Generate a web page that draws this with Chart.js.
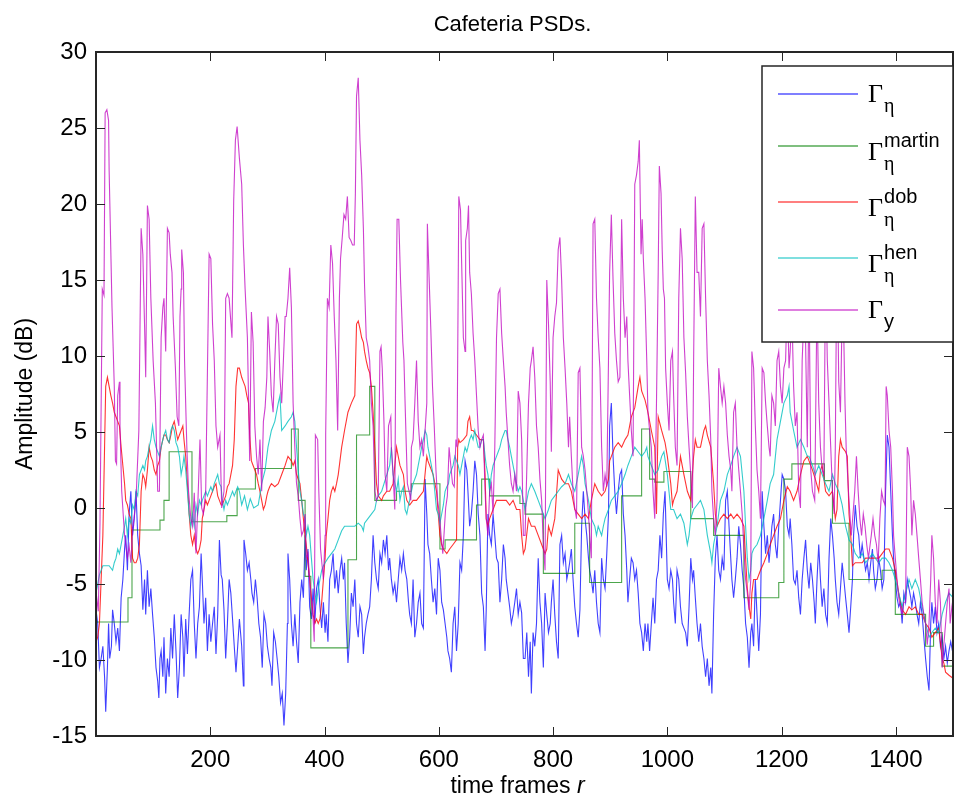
<!DOCTYPE html>
<html>
<head>
<meta charset="utf-8">
<title>Cafeteria PSDs.</title>
<script src="https://cdn.jsdelivr.net/npm/chart.js@4.4.1/dist/chart.umd.min.js"></script>
<style>
  html, body { margin: 0; padding: 0; background: #fff; }
  canvas { display: block; }
</style>
</head>
<body>
<canvas id="psd_chart" width="954" height="803"></canvas>
<script>
const chartTitle = 'Cafeteria PSDs.';
const xTicks = [200, 400, 600, 800, 1000, 1200, 1400];
const yTicks = [-15, -10, -5, 0, 5, 10, 15, 20, 25, 30];

// Gamma_y (noisy speech PSD)
const yFrames = [
  0,4,7,11,14,16,19,22,23,28,
  32,34,36,38,41,42,45,50,55,58,
  61,64,70,75,79,82,85,87,90,93,
  96,100,104,108,111,114,117,119,122,125,
  128,130,133,135,139,142,145,147,149,150,
  153,155,159,162,166,169,172,175,178,182,
  185,188,192,198,201,204,207,210,213,217,
  220,224,227,230,233,238,241,244,247,251,
  255,258,261,265,269,272,275,278,281,284,
  287,290,293,296,299,301,304,307,310,313,
  316,319,322,325,328,331,333,336,339,342,
  345,348,351,354,357,360,363,366,368,371,
  374,377,380,382,384,388,390,393,398,401,
  402,405,408,411,414,417,420,423,426,428,
  431,434,437,440,443,446,449,452,454,456,
  459,462,465,468,470,473,476,479,482,485,
  488,491,494,497,499,501,504,506,509,512,
  516,517,520,523,525,527,530,533,537,539,
  541,545,548,551,552,555,558,561,564,567,
  570,573,576,579,580,583,586,589,592,595,
  598,601,604,607,609,612,615,618,621,624,
  627,630,632,635,638,640,643,646,647,650,
  652,654,657,660,663,666,669,672,675,678,
  681,683,686,689,692,695,698,701,704,707,
  710,713,716,718,721,724,727,730,733,736,
  739,742,745,748,751,754,757,760,762,765,
  768,771,774,777,780,783,786,789,792,795,
  797,800,803,806,809,812,815,818,821,824,
  827,829,832,835,838,841,844,847,850,853,
  856,859,862,864,867,870,873,876,879,882,
  885,888,891,894,897,899,902,905,908,911,
  914,917,920,923,926,929,931,934,937,940,
  943,946,949,951,954,956,958,961,964,966,
  969,972,975,978,981,984,986,989,991,993,
  995,997,1000,1003,1006,1009,1011,1014,1017,1020,
  1023,1026,1029,1032,1035,1038,1041,1044,1046,1049,
  1052,1055,1058,1061,1064,1067,1070,1073,1076,1078,
  1081,1084,1087,1090,1093,1096,1099,1102,1105,1108,
  1111,1113,1116,1119,1122,1125,1128,1131,1134,1137,
  1140,1143,1146,1148,1151,1154,1157,1160,1163,1166,
  1169,1172,1175,1178,1180,1183,1186,1189,1192,1195,
  1198,1201,1204,1207,1210,1213,1215,1218,1221,1224,
  1227,1230,1233,1236,1239,1242,1245,1248,1251,1254,
  1258,1262,1265,1268,1271,1274,1277,1280,1283,1286,
  1289,1292,1294,1297,1300,1303,1307,1311,1313,1317,
  1320,1322,1325,1328,1331,1334,1337,1340,1343,1346,
  1349,1352,1354,1357,1360,1363,1366,1369,1372,1375,
  1378,1381,1383,1385,1388,1391,1394,1396,1399,1402,
  1405,1408,1411,1414,1417,1420,1423,1426,1428,1431,
  1434,1437,1440,1443,1446,1449,1452,1455,1458,1461,
  1463,1466,1469,1472,1475,1478,1481,1484,1487,1490,
  1493,1495,1498,1500
];
const yValues = [
  -5.5,-6.8,-1.0,14.4,14.0,26.0,26.2,25.5,22.2,13.2,
  8.0,3.1,2.9,7.4,8.3,5.4,1.1,-1.8,-3.3,-2.5,
  -3.6,-1.5,0.5,5.1,18.4,16.7,12.0,8.6,19.9,19.0,
  13.8,9.7,6.9,1.1,1.1,11.2,13.2,13.8,10.3,18.4,
  18.1,16.7,15.5,12.6,9.2,6.0,5.4,12.6,14.4,17.0,
  15.5,9.7,4.0,1.1,-0.7,-1.2,1.0,-3.0,0.0,4.5,
  0.0,-0.4,1.1,16.7,16.4,12.1,9.7,5.4,4.0,4.8,
  0.0,1.1,13.8,14.1,13.8,11.2,20.2,24.2,25.1,23.0,
  21.3,17.3,14.4,11.2,3.1,12.9,10.9,5.4,3.4,2.2,
  4.5,1.1,5.7,6.6,8.6,12.6,10.3,7.4,6.3,9.7,
  12.6,12.1,8.6,6.9,9.7,12.6,12.6,13.8,15.8,13.2,
  6.9,4.0,1.6,0.8,-0.7,-1.8,-1.5,-0.4,-3.3,-3.0,
  -4.7,-6.2,-7.3,-8.8,4.8,4.5,1.1,-2.7,-4.7,-1.8,
  4.8,13.8,13.2,17.3,16.1,12.6,9.7,5.1,13.8,16.4,
  17.8,19.3,19.0,20.5,17.8,17.6,17.3,17.3,20.7,27.1,
  28.3,24.2,21.9,18.4,14.7,11.2,10.6,9.7,6.9,5.4,
  1.1,0.5,0.8,10.3,10.6,9.2,5.7,2.2,1.1,5.4,
  6.0,4.0,2.2,-0.1,12.6,19.0,19.0,15.0,10.9,9.7,
  6.9,1.6,1.1,0.5,4.0,4.5,6.9,9.7,5.7,4.0,
  4.5,3.4,5.1,6.9,18.7,15.2,11.8,8.0,5.4,2.5,
  0.5,-0.4,-1.8,-3.0,-1.8,0.0,0.8,4.0,2.8,1.6,
  1.4,4.5,4.0,20.5,19.6,16.1,11.2,10.3,17.6,18.4,
  19.9,15.5,14.1,11.5,9.7,7.4,5.1,4.0,4.5,4.8,
  1.1,-0.7,-1.8,1.1,1.6,-0.4,4.0,11.2,14.1,14.4,
  11.5,9.7,8.0,6.3,4.5,2.8,1.6,1.1,2.2,1.1,
  7.7,6.9,4.5,-1.8,-1.8,2.5,6.9,9.2,9.7,10.6,
  8.6,5.4,4.0,1.9,0.5,-2.4,-4.1,15.0,12.1,8.3,
  3.7,11.2,12.6,13.5,17.0,17.8,15.0,11.2,9.2,6.9,
  4.0,6.0,3.4,1.1,0.0,-0.7,8.9,9.2,4.0,3.4,
  2.5,1.1,-0.4,-1.8,-3.3,18.7,19.0,13.8,11.2,9.2,
  4.0,1.1,2.2,1.4,9.7,15.5,19.3,15.0,11.5,9.7,
  8.3,8.6,19.0,13.8,11.2,12.6,9.7,7.4,5.1,3.4,
  21.3,21.9,22.8,24.2,16.7,19.0,16.4,13.8,9.7,6.3,
  5.1,4.0,1.1,-0.7,6.9,15.5,22.5,20.7,17.0,14.4,
  13.8,9.2,6.9,5.1,9.7,10.3,7.4,4.0,2.8,13.8,
  18.4,16.4,11.2,8.9,6.0,4.0,2.2,0.0,9.7,20.5,
  15.5,15.5,12.6,18.4,18.7,13.8,9.7,7.4,4.5,1.1,
  -0.7,-1.8,0.5,9.2,8.0,6.9,8.0,6.9,4.8,3.4,
  2.5,1.1,6.3,6.9,4.0,2.5,1.1,-0.4,-2.7,-4.7,
  -5.6,-6.7,-4.7,10.3,9.2,5.4,2.5,1.1,-0.7,9.2,
  8.9,6.9,5.4,4.0,3.4,7.4,6.9,5.4,9.7,10.3,
  8.0,6.9,9.2,9.7,14.0,9.2,10.3,13.0,8.0,5.4,
  6.3,1.1,0.0,9.7,12.6,10.9,4.0,15.0,2.5,1.1,
  0.5,14.0,6.9,4.0,2.5,2.2,16.0,9.7,6.9,4.0,
  1.1,-0.4,4.0,18.0,8.3,6.3,15.0,6.9,4.0,1.1,
  -0.7,-1.8,-0.4,1.1,3.4,1.1,-0.7,-1.8,-0.4,-1.2,
  -2.4,-3.3,-2.7,-1.8,-0.7,-1.8,-2.4,-3.6,-0.7,1.1,
  0.5,0.2,8.0,7.4,5.1,4.0,1.1,-1.8,-3.3,-4.7,
  -5.9,-6.5,-7.0,-6.2,-6.2,4.0,3.4,1.1,-1.8,0.5,
  -0.4,-1.8,-3.3,-4.7,-6.2,-7.0,-7.6,-9.0,-7.6,-4.7,
  -1.8,-3.3,-6.2,-7.6,-4.7,-6.2,-10.5,-9.0,-7.6,-6.2,
  -5.3,-7.6,-6.5,-6.0
];

// Gamma_eta (true noise PSD)
const etaFrames = [
  0,3,6,9,12,15,17,20,22,24,
  27,29,32,35,38,41,44,47,50,52,
  55,58,61,64,67,70,73,76,79,82,
  85,87,90,93,96,99,102,105,108,110,
  112,114,117,119,122,125,128,131,134,137,
  140,143,146,149,152,154,157,160,163,166,
  169,172,175,178,181,184,186,189,192,195,
  198,201,204,207,210,213,216,219,221,224,
  227,230,233,236,239,242,245,248,251,255,
  258,259,262,265,268,271,273,276,279,282,
  285,288,291,294,297,300,303,306,308,311,
  314,317,320,323,326,329,332,335,336,339,
  342,345,348,351,354,357,360,363,366,368,
  371,374,377,380,383,386,389,392,395,398,
  401,403,406,409,412,415,418,421,424,427,
  430,433,435,438,441,444,447,450,453,456,
  459,462,465,468,470,473,476,479,482,485,
  488,491,494,497,500,503,506,509,512,514,
  517,520,523,526,529,532,535,538,541,544,
  547,549,552,555,558,561,564,567,570,573,
  576,579,581,584,587,590,593,596,599,602,
  605,608,611,614,616,619,622,625,628,631,
  634,637,640,643,646,649,651,654,657,660,
  663,666,669,672,675,678,681,683,686,689,
  692,695,698,701,704,707,710,713,716,718,
  721,724,727,730,733,736,739,742,745,748,
  751,754,757,760,762,765,768,771,774,777,
  780,783,786,789,792,795,797,800,803,806,
  809,812,815,818,821,824,827,829,832,835,
  838,841,844,847,850,853,856,859,862,864,
  867,870,873,876,879,882,885,888,891,894,
  897,899,902,905,908,911,914,917,920,923,
  926,929,931,934,937,940,943,946,949,952,
  955,958,961,964,966,969,972,975,978,981,
  984,987,990,993,996,1000,1003,1006,1009,1011,
  1014,1017,1020,1023,1026,1029,1032,1035,1038,1041,
  1044,1046,1049,1052,1055,1058,1061,1064,1067,1070,
  1073,1076,1078,1081,1084,1087,1090,1093,1096,1099,
  1102,1105,1108,1111,1113,1116,1119,1122,1125,1128,
  1131,1134,1137,1140,1143,1146,1148,1151,1154,1157,
  1160,1163,1166,1169,1172,1175,1178,1180,1183,1186,
  1189,1192,1195,1198,1201,1204,1207,1210,1213,1215,
  1218,1221,1224,1227,1230,1233,1236,1239,1242,1245,
  1248,1251,1254,1257,1259,1262,1265,1268,1271,1274,
  1277,1280,1283,1286,1289,1292,1294,1297,1300,1303,
  1306,1309,1312,1315,1318,1321,1324,1326,1329,1332,
  1335,1338,1341,1344,1347,1350,1353,1356,1359,1361,
  1364,1367,1370,1373,1376,1379,1382,1385,1388,1391,
  1394,1396,1399,1402,1405,1408,1411,1414,1417,1420,
  1423,1426,1428,1431,1434,1437,1440,1443,1446,1449,
  1452,1455,1458,1461,1463,1466,1469,1472,1475,1478,
  1481,1484,1487,1490,1493,1496,1500
];
const etaValues = [
  -6.7,-7.6,-10.5,-9.9,-9.1,-11.1,-13.4,-10.5,-7.6,-9.9,
  -9.1,-6.7,-7.6,-8.8,-7.9,-9.4,-5.9,-4.7,-2.7,-1.8,
  -4.1,-0.4,1.1,-1.8,-0.7,1.1,-1.8,-3.0,-3.8,-6.7,
  -4.7,-7.0,-4.1,-6.5,-5.3,-7.0,-8.5,-10.5,-11.4,-12.5,
  -9.9,-9.4,-11.1,-8.5,-12.2,-9.9,-11.1,-7.9,-9.9,-7.0,
  -9.4,-12.5,-10.5,-7.0,-8.5,-11.1,-7.3,-9.6,-7.0,-4.7,
  -4.1,-7.6,-9.9,-7.6,-6.5,-3.0,-4.7,-7.6,-5.9,-9.4,
  -7.0,-8.8,-7.6,-6.5,-9.6,-7.0,-2.1,-4.4,-4.7,-6.7,
  -9.9,-7.6,-4.7,-5.6,-7.3,-9.1,-10.8,-9.1,-7.3,-9.1,
  -11.7,-2.1,-3.0,-4.1,-3.6,-4.7,-5.6,-6.2,-4.7,-5.9,
  -7.6,-8.5,-10.5,-7.0,-7.6,-9.1,-9.9,-10.5,-11.7,-8.2,
  -8.8,-9.9,-11.1,-12.8,-12.2,-14.3,-12.2,-7.6,-3.0,-4.7,
  -7.6,-9.1,-7.0,-8.8,-10.2,-6.2,-4.7,-5.9,-1.8,-4.1,
  -2.7,-6.5,-7.3,-5.3,-7.6,-5.3,-4.7,-6.5,-7.9,-6.2,
  -8.2,-7.0,-8.8,-4.7,-4.1,-3.0,-5.3,-4.1,-5.6,-4.1,
  -3.3,-4.7,-3.6,-7.6,-10.2,-8.5,-5.6,-6.5,-4.7,-7.6,
  -8.5,-6.5,-7.0,-9.6,-8.5,-7.6,-7.0,-6.5,-4.7,-1.8,
  -3.6,-4.7,-5.3,-3.0,-3.6,-2.1,-3.0,-1.8,-4.1,-3.3,
  -4.7,-5.6,-5.0,-6.2,-4.7,-3.3,-4.1,-3.0,-4.1,-4.7,
  -6.2,-7.0,-7.6,-4.7,-8.5,-7.6,-6.2,-5.6,-7.6,-7.9,
  1.9,-0.4,-2.4,-3.0,-4.7,-6.2,-5.3,-7.0,-3.3,-4.1,
  -6.2,-6.7,-7.6,-8.5,-9.4,-9.9,-10.8,-7.6,-6.5,-9.4,
  -7.6,-3.6,-4.1,-1.8,3.1,2.5,1.1,-1.2,-0.4,1.1,
  3.1,2.2,-0.4,-1.8,-5.6,-6.5,-9.4,-6.7,-0.4,-1.8,
  -2.4,-0.4,-1.8,-3.3,-3.6,-6.2,-4.7,-2.4,-3.3,-4.7,
  -5.6,-6.5,-7.6,-7.0,-6.2,-5.3,-7.0,-6.2,-6.9,-9.9,
  -9.9,-8.2,-11.1,-8.8,-12.2,-8.2,-9.1,-7.6,-3.3,-6.2,
  -7.6,-10.5,-5.6,-7.0,-8.2,-7.6,-6.2,-4.7,-7.0,-8.8,
  -9.9,-2.4,-1.8,-3.6,-3.0,-4.7,-4.1,-3.6,-2.7,-4.7,
  -6.5,-7.6,-8.5,-6.7,-1.2,1.1,-0.7,-1.8,-3.3,-4.1,
  -4.7,-5.6,-4.1,-6.2,-7.6,-8.2,-3.3,-4.7,-5.3,-3.0,
  -0.4,5.4,6.9,3.4,1.1,-0.4,1.1,2.2,2.5,-0.4,
  -1.8,-4.1,-6.2,-4.7,-3.3,-3.6,-4.7,-4.1,-5.6,-7.6,
  -8.2,-9.4,-7.6,-8.8,-7.6,-9.4,-7.6,-5.9,-7.6,-4.7,
  -4.1,-1.8,-3.3,-0.4,1.1,-4.7,-5.3,-4.1,-4.7,-6.2,
  -7.6,-4.1,-4.7,-6.5,-7.6,-7.9,-8.2,-9.1,-6.5,-3.3,
  -4.7,-4.1,-5.9,-7.6,-8.8,-7.6,-9.1,-9.9,-11.1,-9.9,
  -11.7,-10.5,-12.2,-7.0,-3.3,-1.8,-4.1,-4.7,-3.3,-4.1,
  0.5,1.1,-1.2,-3.3,-4.7,-5.9,-4.7,-3.3,-1.2,-2.4,
  -4.1,-5.3,-7.6,-8.5,-10.5,-8.2,-7.6,-9.1,-4.7,-7.0,
  -9.4,-7.0,1.1,-1.2,-3.0,-1.8,-3.6,-2.7,-1.2,-0.4,
  -2.4,-3.3,-1.2,0.5,2.2,1.9,1.1,-1.2,-1.8,-0.7,
  -2.4,-4.7,-5.0,-4.1,-5.9,-7.0,-4.7,-3.3,-2.1,-4.1,
  -5.3,-3.6,-4.7,-6.2,-7.6,-4.7,-2.4,-4.7,-6.5,-5.3,
  -7.0,-7.6,-3.3,-0.7,-1.8,-3.3,-4.7,-6.2,-7.0,-5.3,
  -3.6,-4.7,-5.9,-7.0,-8.2,-6.5,-4.7,-1.8,0.2,-1.2,
  -1.8,-3.3,-2.4,-3.3,-4.1,-3.6,-4.7,-3.6,-2.7,-4.1,
  -5.3,-4.7,-3.3,-4.1,-5.3,-4.7,1.1,4.8,4.0,1.1,
  -1.8,-3.3,-4.7,-5.9,-6.5,-6.2,-7.6,-5.6,-6.2,-4.7,
  -5.3,-5.9,-6.5,-5.6,-6.2,-7.0,-7.6,-6.2,-7.0,-8.5,
  -9.9,-11.1,-12.0,-7.6,-6.2,-7.6,-6.5,-8.2,-7.6,-9.1,
  -8.5,-9.9,-9.1,-10.2,-9.4,-8.8,-9.6
];

// Gamma_eta^martin (minimum statistics, step-wise)
const martinFrames = [0, 56, 63, 112, 119, 128, 168, 229, 247, 279, 342, 354, 366, 376, 441, 456, 479, 488, 526, 552,
  602, 611, 666, 675, 689, 742, 751, 783, 838, 864, 920, 955, 969, 978, 994, 1041, 1081, 1134, 1195, 1204,
  1218, 1275, 1289, 1318, 1376, 1399, 1452, 1466, 1481, 1500];
const martinValues = [-7.5, -5.9, -1.45, -0.8, 0.5, 3.7, -0.9, -0.5, 1.25, 2.6, 5.2, 0.5, -4.5, -9.2, -3.4, 4.8, 8.0, 0.5, 1.1, 1.6,
  -2.7, -2.1, 0.2, 1.9, 0.8, 0.3, -0.4, -4.3, -1.0, -4.9, 0.8, 5.2, 1.9, 1.7, 2.4, -0.7, -1.8, -5.9, -4.9, 1.9,
  2.9, 1.8, -1.0, -4.7, -4.1, -7.0, -9.1, -8.2, -10.4, -10.4];

// Gamma_eta^dob
const dobFrames = [
  0,3,6,9,12,15,17,20,23,26,
  29,32,35,38,41,44,47,50,52,55,
  58,61,64,67,70,73,76,79,82,85,
  87,90,93,96,99,102,105,108,111,114,
  117,119,122,125,128,131,134,137,140,143,
  146,149,152,154,157,160,163,166,169,172,
  175,178,181,184,186,189,192,195,198,201,
  204,207,210,213,216,219,221,224,227,230,
  233,236,239,242,245,248,251,255,258,261,
  264,267,269,272,275,278,281,284,287,290,
  293,296,299,301,304,307,313,319,325,331,
  336,342,345,348,351,354,357,360,363,366,
  368,371,374,377,380,383,386,389,392,395,
  398,401,403,406,409,412,415,418,421,424,
  430,435,441,447,453,456,459,462,465,468,
  470,473,476,479,482,485,488,491,494,500,
  503,509,514,520,526,529,532,538,541,544,
  549,555,561,567,573,579,581,584,590,596,
  599,602,605,608,614,619,625,631,633,635,
  637,643,649,651,654,657,660,666,672,678,
  681,683,686,689,695,701,707,713,718,724,
  730,736,742,745,748,751,757,762,768,774,
  780,783,786,789,792,797,803,809,815,821,
  827,832,838,844,850,856,862,867,873,879,
  885,891,897,899,902,908,914,920,926,931,
  937,943,949,952,955,961,966,972,978,981,
  984,990,996,1000,1006,1009,1011,1017,1023,1026,
  1029,1035,1041,1046,1049,1052,1058,1064,1067,1070,
  1076,1081,1084,1087,1093,1099,1105,1111,1116,1122,
  1128,1134,1137,1140,1143,1146,1148,1151,1157,1163,
  1169,1175,1180,1186,1192,1198,1204,1210,1215,1221,
  1227,1233,1239,1245,1248,1254,1259,1265,1268,1271,
  1277,1283,1289,1294,1297,1300,1303,1306,1312,1315,
  1318,1321,1324,1329,1341,1347,1359,1370,1376,1382,
  1388,1394,1399,1405,1411,1417,1423,1428,1434,1440,
  1446,1452,1458,1463,1469,1475,1481,1484,1487,1493,
  1500
];
const dobValues = [
  -8.8,-8.5,-7.6,-4.7,-1.8,4.0,8.0,8.6,8.0,7.4,
  6.9,6.3,6.0,5.7,5.4,4.0,2.8,1.6,0.5,0.2,
  -0.4,-0.7,-3.3,-3.6,-3.6,-3.3,-2.4,1.1,2.2,1.9,
  1.4,2.5,4.0,3.4,3.1,2.5,2.2,2.8,3.1,4.0,
  4.5,4.8,4.8,4.5,4.3,4.8,5.4,5.7,5.1,4.5,
  4.8,5.1,5.4,4.5,3.4,1.6,-0.4,-1.8,-2.4,-1.8,
  -2.7,-3.0,-2.7,-2.1,-0.7,-0.1,0.5,0.2,0.5,0.8,
  1.1,1.4,1.6,0.8,0.5,0.2,0.2,0.5,0.8,1.4,
  1.6,2.2,2.8,4.5,8.0,9.2,9.2,8.6,8.3,8.0,
  7.4,6.9,4.8,3.1,2.8,2.5,2.2,1.6,1.1,0.5,
  -0.1,0.2,0.8,1.1,1.4,1.6,1.4,1.6,2.2,2.8,
  3.4,3.1,2.8,3.1,2.2,1.9,1.6,0.5,-0.7,-1.8,
  -2.4,-3.6,-4.7,-5.9,-7.0,-7.6,-7.3,-7.6,-7.3,-6.2,
  -4.7,-3.3,-1.8,-0.7,0.5,1.1,1.4,1.1,1.6,2.2,
  4.0,5.1,6.3,6.9,7.4,12.1,12.3,11.8,11.2,10.9,
  10.3,9.7,9.2,8.9,8.0,6.3,4.0,1.6,0.8,0.5,
  0.8,1.1,1.1,1.6,4.0,3.4,2.8,2.2,1.1,0.5,
  0.2,0.5,0.5,0.8,1.1,3.4,3.1,2.8,2.2,1.1,
  -0.4,-1.8,-2.4,-2.7,-3.0,-2.7,-2.4,-2.1,4.0,4.5,
  4.3,4.5,4.8,5.7,6.0,5.1,5.1,4.8,4.5,4.5,
  2.2,-0.7,-1.2,-0.7,-0.1,0.5,0.5,0.5,0.5,0.2,
  0.5,-0.1,-0.1,-1.8,-3.0,-2.7,-0.7,-1.2,-1.2,-1.8,
  -2.4,-2.7,-3.0,-2.7,-1.2,-1.8,-0.7,2.5,1.9,1.6,
  1.6,1.1,-0.1,-0.4,-0.7,-0.4,-0.7,0.5,1.6,1.1,
  0.8,1.1,1.9,3.1,3.4,4.0,4.3,4.0,4.5,4.8,
  6.0,6.6,8.0,8.6,7.7,7.1,6.3,5.1,4.0,-0.4,
  6.0,5.1,4.3,3.4,1.6,0.2,0.5,1.1,3.4,2.8,
  2.2,1.1,0.5,3.4,4.5,4.0,4.0,5.1,5.4,4.8,
  4.0,1.6,-0.4,-1.2,-0.7,-0.4,-0.7,-0.4,-0.7,-0.4,
  -0.7,-1.2,-3.3,-5.3,-6.5,-7.3,-5.6,-4.7,-4.7,-4.1,
  -3.6,-3.0,-2.4,-1.8,-1.2,-0.7,0.5,1.4,1.1,0.5,
  1.1,2.2,3.1,3.4,3.1,2.5,1.9,1.1,2.5,2.8,
  1.1,0.8,1.1,-0.7,-0.1,3.4,4.5,4.0,3.7,3.4,
  -0.4,-1.8,-3.8,-3.6,-3.6,-3.3,-3.3,-3.3,-3.0,-2.7,
  -2.7,-3.3,-4.1,-5.6,-6.7,-7.0,-6.5,-6.7,-6.5,-7.0,
  -7.0,-7.6,-7.9,-8.5,-8.2,-7.9,-9.9,-10.2,-10.8,-11.0,
  -11.2
];

// Gamma_eta^hen
const henFrames = [
  0,6,12,17,23,29,32,35,38,41,
  44,47,50,52,55,58,61,64,67,70,
  73,76,79,82,85,87,90,93,96,99,
  102,105,108,111,114,117,119,122,125,128,
  131,134,137,140,143,146,149,152,154,157,
  160,163,166,169,172,175,178,181,184,186,
  189,192,195,198,201,204,207,210,213,216,
  219,221,224,227,230,233,236,239,242,245,
  248,251,255,260,265,270,276,284,290,296,
  301,307,313,319,322,325,331,336,342,345,
  348,351,354,357,360,363,366,368,371,374,
  377,380,383,386,389,392,395,398,401,406,
  412,418,424,430,435,441,447,453,459,465,
  468,470,476,482,488,491,494,500,509,514,
  517,520,526,529,532,535,538,541,544,547,
  549,552,555,561,564,567,570,573,576,579,
  581,584,590,593,596,599,602,605,608,611,
  614,617,619,622,625,628,631,634,637,640,
  643,646,649,651,654,657,660,663,666,669,
  672,675,678,681,683,686,689,692,695,698,
  701,704,707,710,713,716,718,721,724,727,
  730,733,736,739,742,745,751,757,762,768,
  774,780,786,792,797,803,809,815,821,827,
  832,838,844,847,850,853,856,862,867,873,
  876,879,885,888,891,897,902,908,914,920,
  926,931,937,943,949,955,961,964,966,972,
  978,984,990,994,1000,1006,1011,1017,1023,1029,
  1035,1038,1041,1046,1052,1058,1064,1070,1076,1078,
  1081,1087,1093,1099,1105,1111,1116,1122,1128,1134,
  1137,1140,1143,1146,1148,1151,1157,1163,1169,1175,
  1180,1186,1192,1198,1204,1210,1213,1215,1221,1227,
  1233,1239,1245,1248,1254,1259,1265,1271,1277,1283,
  1289,1294,1300,1306,1312,1318,1324,1329,1335,1341,
  1347,1353,1359,1364,1370,1376,1382,1388,1394,1399,
  1405,1411,1417,1423,1428,1434,1440,1446,1452,1458,
  1463,1469,1475,1481,1487,1493,1500
];
const henValues = [
  -5.6,-4.4,-3.8,-3.8,-3.8,-4.1,-3.6,-3.3,-2.7,-3.0,
  -2.4,-1.8,-1.2,-0.7,-1.8,-0.7,-1.0,0.2,-0.1,1.1,
  0.8,2.2,2.5,2.8,2.5,3.1,3.4,4.0,4.5,5.4,
  4.5,4.0,3.7,3.4,4.0,4.5,4.8,5.1,4.5,4.3,
  5.1,5.4,5.1,4.3,4.0,3.4,2.2,2.8,3.4,2.5,
  1.1,-0.4,-1.2,-0.4,-1.2,0.2,-0.4,0.5,0.2,0.5,
  0.8,1.1,0.8,1.1,1.4,1.1,1.6,1.9,2.2,1.6,
  1.4,0.5,-0.1,0.5,0.2,0.5,0.8,1.1,0.8,1.1,
  1.4,1.1,0.2,0.8,-0.1,0.6,0.0,0.2,1.6,2.5,
  4.0,5.1,5.7,6.9,7.4,5.1,5.4,5.7,6.0,6.3,
  5.7,4.0,2.5,1.1,0.5,-0.4,-0.7,-1.8,-1.2,-1.8,
  -3.3,-4.7,-5.6,-6.2,-5.3,-4.7,-4.1,-3.8,-3.6,-3.3,
  -3.0,-2.7,-2.1,-1.5,-1.2,-1.2,-1.2,-1.2,-1.0,-1.2,
  -1.5,-1.0,-0.7,-0.4,-0.1,0.5,0.8,1.1,2.2,2.8,
  4.0,2.2,1.1,1.9,0.5,1.1,1.4,-0.1,-0.4,0.2,
  0.5,1.1,1.6,2.2,2.8,3.4,4.0,4.5,5.1,4.8,
  4.0,3.4,2.2,1.1,-0.1,-0.4,-1.0,-0.4,0.2,1.1,
  1.4,1.6,2.2,2.5,2.8,3.4,3.1,2.8,2.2,2.8,
  3.4,4.0,3.7,4.0,4.5,4.8,4.5,5.1,4.5,4.0,
  4.0,4.5,4.5,3.4,2.8,2.2,1.1,2.2,2.8,3.1,
  3.4,3.7,4.0,4.5,4.8,5.1,5.1,4.5,4.0,3.4,
  2.8,2.2,1.6,1.1,1.4,1.1,-0.1,1.1,1.6,1.1,
  0.5,-0.1,-0.7,-0.1,0.5,0.8,1.1,1.4,1.6,2.2,
  1.6,1.1,2.2,2.8,3.4,2.8,1.6,0.5,-0.7,-1.2,
  -1.8,-1.2,-1.8,-1.2,-0.7,-0.1,0.5,0.8,1.1,1.6,
  2.2,2.8,3.4,4.0,3.7,3.4,3.7,4.0,3.4,2.8,
  2.2,2.5,3.4,3.7,2.2,-0.1,-0.1,-0.7,-0.4,-1.0,
  -2.4,-1.8,-0.7,-0.1,0.2,0.5,-0.1,-1.8,-3.0,-3.6,
  -2.4,-1.2,0.5,1.1,2.2,2.8,3.4,4.0,3.4,1.1,
  -1.2,-3.3,-4.7,-4.1,-3.0,-2.7,-2.4,-1.8,-0.7,0.5,
  1.6,2.2,4.5,5.7,6.9,7.4,8.0,6.3,5.1,4.0,
  4.5,4.0,3.4,3.4,2.8,2.2,2.8,2.2,1.6,1.1,
  2.2,1.6,1.1,0.2,-1.2,-2.1,-2.4,-3.0,-3.3,-3.0,
  -3.6,-3.3,-3.0,-3.3,-3.6,-3.3,-3.3,-3.6,-4.1,-4.7,
  -5.6,-6.5,-5.6,-4.7,-5.3,-4.7,-5.3,-6.5,-7.6,-8.5,
  -8.2,-7.9,-8.2,-7.0,-6.2,-5.6,-5.9
];

// legend rows: Gamma with TeX-like sub/superscripts
const legendRows = [
  { color: '#0000ff', sup: '', sub: 'η' },
  { color: '#008000', sup: 'martin', sub: 'η' },
  { color: '#ff0000', sup: 'dob', sub: 'η' },
  { color: '#00bfbf', sup: 'hen', sub: 'η' },
  { color: '#bf00bf', sup: '', sub: 'y' }
];

function toPoints(frames, values) {
  const n = Math.min(frames.length, values.length);
  const pts = [];
  for (let i = 0; i < n; i++) pts.push({ x: frames[i], y: values[i] });
  return pts;
}

// frame box with inward ticks on all four sides + title/x label (MATLAB look)
const matlabAxes = {
  id: 'matlabAxes',
  afterDatasetsDraw(chart) {
    const { ctx, chartArea: a, scales } = chart;
    ctx.save();
    ctx.strokeStyle = '#262626';
    ctx.lineWidth = 1;
    ctx.beginPath();
    xTicks.forEach(v => {
      const px = Math.round(scales.x.getPixelForValue(v)) + 0.5;
      ctx.moveTo(px, a.bottom); ctx.lineTo(px, a.bottom - 9);
      ctx.moveTo(px, a.top); ctx.lineTo(px, a.top + 9);
    });
    yTicks.forEach(v => {
      const py = Math.round(scales.y.getPixelForValue(v)) + 0.5;
      ctx.moveTo(a.left, py); ctx.lineTo(a.left + 9, py);
      ctx.moveTo(a.right, py); ctx.lineTo(a.right - 9, py);
    });
    ctx.stroke();
    ctx.lineWidth = 2;
    ctx.strokeRect(a.left, a.top, a.right - a.left, a.bottom - a.top);

    const cx = (a.left + a.right) / 2;
    ctx.fillStyle = '#000';
    ctx.textBaseline = 'middle';
    ctx.textAlign = 'center';
    ctx.font = '22px "Liberation Sans", Arial, sans-serif';
    ctx.fillText(chartTitle, cx - 12, 25);

    // "time frames r" with italic r
    ctx.font = '23px "Liberation Sans", Arial, sans-serif';
    const part1 = 'time frames ';
    const w1 = ctx.measureText(part1).width;
    ctx.font = 'italic 23px "Liberation Sans", Arial, sans-serif';
    const w2 = ctx.measureText('r').width;
    const x0 = cx - 7 - (w1 + w2) / 2;
    ctx.textAlign = 'left';
    ctx.font = '23px "Liberation Sans", Arial, sans-serif';
    ctx.fillText(part1, x0, 787);
    ctx.font = 'italic 23px "Liberation Sans", Arial, sans-serif';
    ctx.fillText('r', x0 + w1, 787);
    ctx.restore();
  },
  afterDraw(chart) {
    const { ctx, chartArea: a } = chart;
    const w = 191, h = 276;
    const left = a.right - w, top = a.top + 14;
    const rowY = [28, 80, 136, 192, 244];
    ctx.save();
    ctx.fillStyle = '#fff';
    ctx.fillRect(left, top, w, h);
    ctx.strokeStyle = '#262626';
    ctx.lineWidth = 1.5;
    ctx.strokeRect(left, top, w, h);
    legendRows.forEach((row, i) => {
      const y = top + rowY[i];
      ctx.strokeStyle = row.color;
      ctx.globalAlpha = 0.5;
      ctx.lineWidth = 2;
      ctx.beginPath();
      ctx.moveTo(left + 16, y);
      ctx.lineTo(left + 96, y);
      ctx.stroke();
      ctx.globalAlpha = 1;
      const shift = row.sup ? 6 : 0;
      ctx.fillStyle = '#000';
      ctx.textAlign = 'left';
      ctx.textBaseline = 'alphabetic';
      ctx.font = '26px "Liberation Serif", "DejaVu Serif", serif';
      ctx.fillText('Γ', left + 106, y + 8 + shift);
      const gx = left + 106 + ctx.measureText('Γ').width + 1;
      if (row.sup) {
        ctx.font = '20px "Liberation Sans", Arial, sans-serif';
        ctx.fillText(row.sup, gx, y + 1);
      }
      ctx.font = row.sub === 'η'
        ? '20px "Liberation Serif", "DejaVu Serif", serif'
        : '20px "Liberation Sans", Arial, sans-serif';
      ctx.fillText(row.sub, gx, y + 18 + shift);
    });
    ctx.restore();
  }
};

const lineStyle = { borderWidth: 1.1, pointRadius: 0, tension: 0, fill: false };

new Chart(document.getElementById('psd_chart').getContext('2d'), {
  type: 'line',
  data: {
    datasets: [
      { ...lineStyle, label: 'eta', data: toPoints(etaFrames, etaValues), borderColor: 'rgba(0,0,255,0.75)', order: 5 },
      { ...lineStyle, label: 'martin', data: toPoints(martinFrames, martinValues), borderColor: 'rgba(0,128,0,0.7)', stepped: 'before', order: 4 },
      { ...lineStyle, label: 'dob', data: toPoints(dobFrames, dobValues), borderColor: 'rgba(255,0,0,0.8)', order: 3 },
      { ...lineStyle, label: 'hen', data: toPoints(henFrames, henValues), borderColor: 'rgba(0,191,191,0.8)', order: 2 },
      { ...lineStyle, label: 'y', data: toPoints(yFrames, yValues), borderColor: 'rgba(191,0,191,0.75)', order: 1 }
    ]
  },
  options: {
    responsive: false,
    animation: false,
    devicePixelRatio: 1,
    layout: { padding: { top: 52, right: 1, bottom: 0, left: 0 } },
    plugins: {
      legend: { display: false },
      tooltip: { enabled: false },
      title: { display: false }
    },
    scales: {
      x: {
        type: 'linear',
        min: 0,
        max: 1500,
        grid: { display: false, drawTicks: false },
        border: { display: false },
        ticks: {
          color: '#000',
          padding: 10,
          maxRotation: 0,
          font: { family: 'Liberation Sans', size: 24 },
          callback: v => String(v)
        },
        afterBuildTicks: s => { s.ticks = xTicks.map(v => ({ value: v })); },
        afterFit: s => { s.height = 67; }
      },
      y: {
        type: 'linear',
        min: -15,
        max: 30,
        grid: { display: false, drawTicks: false },
        border: { display: false },
        ticks: {
          color: '#000',
          padding: 9,
          font: { family: 'Liberation Sans', size: 24 },
          callback: v => String(v)
        },
        title: {
          display: true,
          text: 'Amplitude (dB)',
          color: '#000',
          font: { family: 'Liberation Sans', size: 23 },
          padding: { top: 12, bottom: 0 }
        },
        afterBuildTicks: s => { s.ticks = yTicks.map(v => ({ value: v })); },
        afterFit: s => { s.width = 96; }
      }
    }
  },
  plugins: [matlabAxes]
});
</script>
</body>
</html>
